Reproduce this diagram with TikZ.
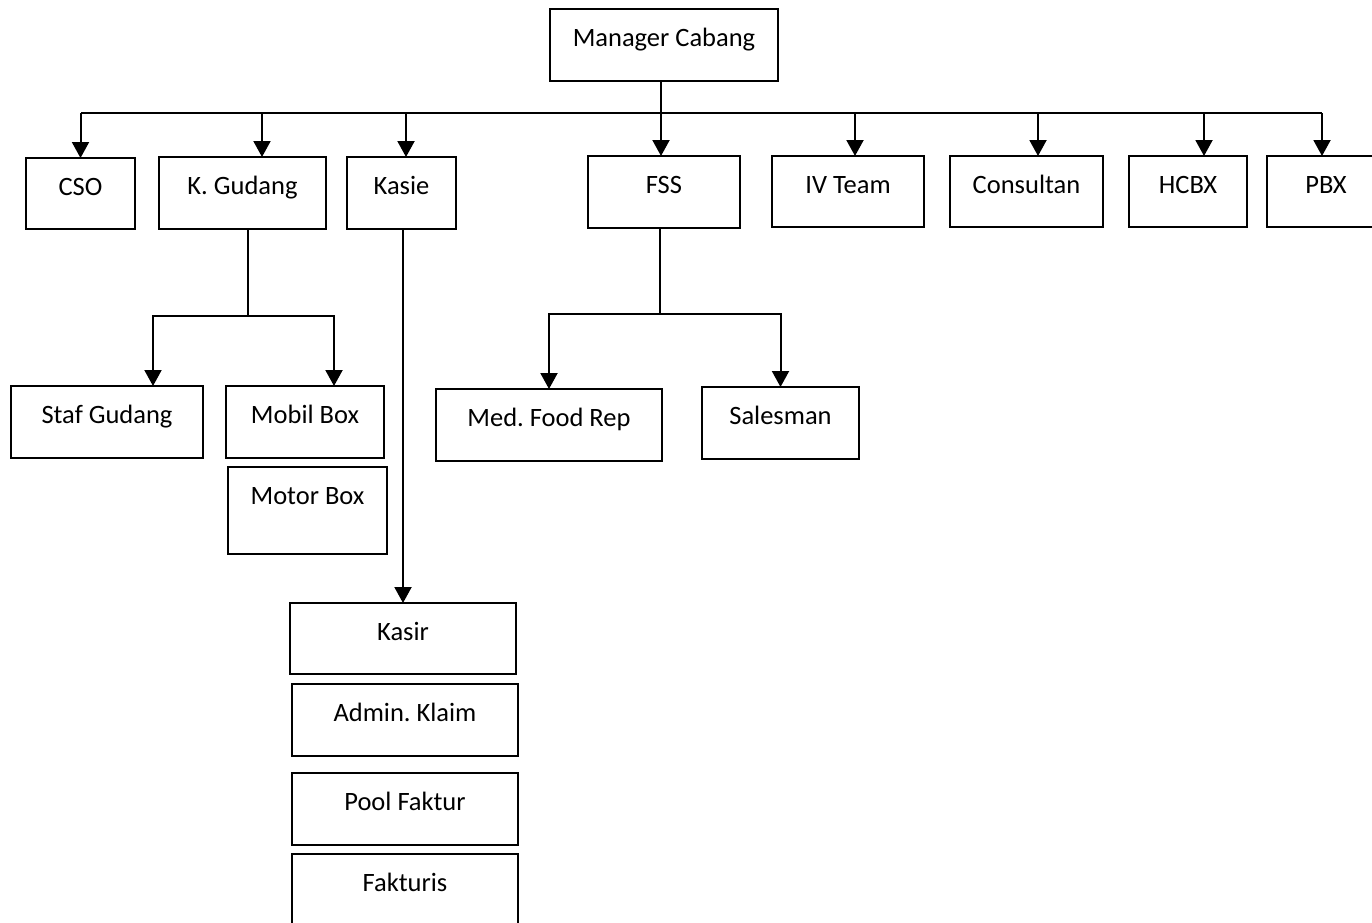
\documentclass[tikz,border=0pt]{standalone}
\usepackage{fontspec}
\setmainfont{Carlito}
\usetikzlibrary{arrows.meta}
\frenchspacing
\tikzset{
  box/.style={draw, rectangle, line width=2pt, inner sep=0pt, outer sep=0pt, anchor=north west},
  boxtext/.style={anchor=base, yshift=-37pt, inner sep=0pt, font=\fontsize{26.5}{30}\selectfont},
  conn/.style={line width=2pt},
  arr/.style={line width=2pt, -{Triangle[length=16pt,width=17pt]}}
}
\newcommand\orgbox[6]{\node[box, minimum width={#4-#2}, minimum height={#5-#3}, label={[boxtext]north:#6}] (#1) at (#2,#3) {};}
\begin{document}
\begin{tikzpicture}[x=1pt,y=-1pt]
\useasboundingbox (0,0) rectangle (1372,922);
\orgbox{mgr}{550}{9}{778}{81}{Manager Cabang}
\orgbox{cso}{26}{158}{135}{229}{CSO}
\orgbox{kg}{159}{157}{326}{229}{K.\ Gudang}
\orgbox{kasie}{347}{157}{456}{229}{Kasie}
\orgbox{fss}{588}{156}{740}{228}{FSS}
\orgbox{iv}{772}{156}{924}{227}{IV Team}
\orgbox{cons}{950}{156}{1103}{227}{Consultan}
\orgbox{hcbx}{1129}{156}{1247}{227}{HCBX}
\orgbox{pbx}{1267}{156}{1385}{227}{PBX}
\orgbox{staf}{11}{386}{203}{458}{Staf Gudang}
\orgbox{mobil}{226}{386}{384}{458}{Mobil Box}
\orgbox{motor}{228}{467}{387}{554}{Motor Box}
\orgbox{med}{436}{389}{662}{461}{Med.\ Food Rep}
\orgbox{sales}{702}{387}{859}{459}{Salesman}
\orgbox{kasir}{290}{603}{516}{674}{Kasir}
\orgbox{admin}{292}{684}{518}{756}{Admin.\ Klaim}
\orgbox{pool}{292}{773}{518}{845}{Pool Faktur}
\orgbox{fakt}{292}{854}{518}{935}{Fakturis}
% bus
\coordinate (busL) at (81,113);
\coordinate (busR) at (1322,113);
\draw[conn] (busL) -- (busR);
\draw[arr] ([xshift=111pt]mgr.south west) -- ([xshift=73pt]fss.north west);
\draw[arr] (cso.north |- busL) -- (cso.north);
\draw[arr] ([xshift=103pt]kg.north west |- busL) -- ([xshift=103pt]kg.north west);
\draw[arr] ([xshift=59pt]kasie.north west |- busL) -- ([xshift=59pt]kasie.north west);
\draw[arr] ([xshift=83pt]iv.north west |- busL) -- ([xshift=83pt]iv.north west);
\draw[arr] ([xshift=88pt]cons.north west |- busL) -- ([xshift=88pt]cons.north west);
\draw[arr] ([xshift=75pt]hcbx.north west |- busL) -- ([xshift=75pt]hcbx.north west);
\draw[arr] ([xshift=55pt]pbx.north west |- busL) -- ([xshift=55pt]pbx.north west);
% K. Gudang branch
\coordinate (kgj) at (248,316);
\draw[conn] (kgj |- kg.south) -- (kgj);
\draw[arr] (kgj) -| ([xshift=142pt]staf.north west);
\draw[arr] (kgj) -| ([xshift=108pt]mobil.north west);
% Kasie branch
\draw[arr] (kasir.north |- kasie.south) -- (kasir.north);
% FSS branch
\coordinate (fj) at (660,314);
\draw[conn] (fj |- fss.south) -- (fj);
\draw[arr] (fj) -| (med.north);
\draw[arr] (fj) -| (sales.north);
\end{tikzpicture}
\end{document}
